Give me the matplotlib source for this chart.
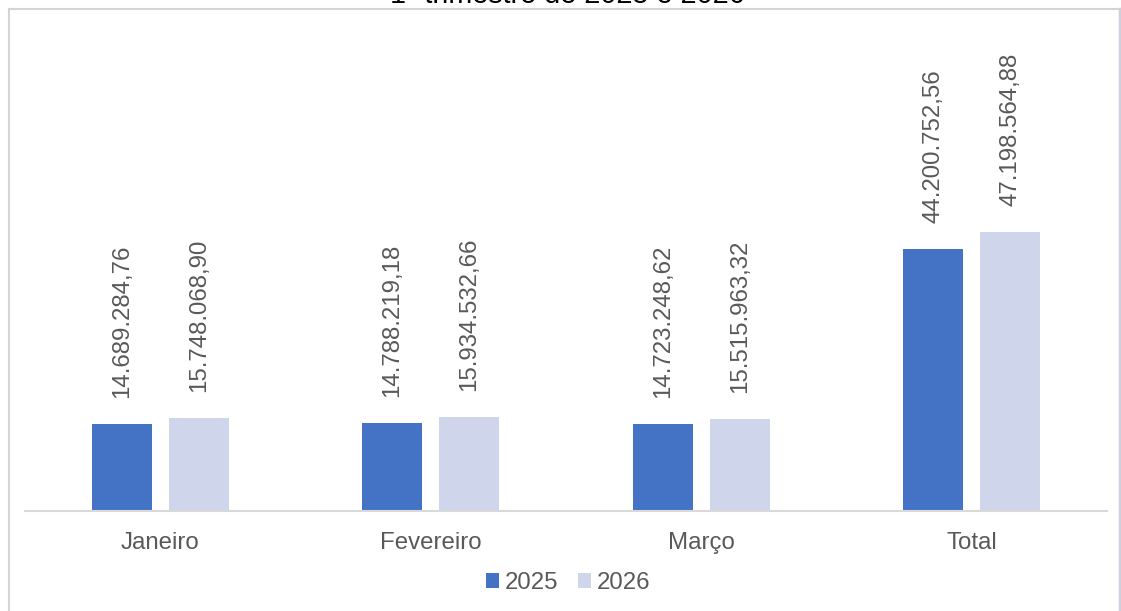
import matplotlib
matplotlib.use("Agg")
import matplotlib.pyplot as plt
from matplotlib.lines import Line2D
import numpy as np

categories = ["Janeiro", "Fevereiro", "Março", "Total"]
values_2025 = [14689284.76, 14788219.18, 14723248.62, 44200752.56]
values_2026 = [15748068.90, 15934532.66, 15515963.32, 47198564.88]
labels_2025 = ["14.689.284,76", "14.788.219,18", "14.723.248,62", "44.200.752,56"]
labels_2026 = ["15.748.068,90", "15.934.532,66", "15.515.963,32", "47.198.564,88"]
series_names = ["2025", "2026"]
title = "1º trimestre de 2025 e 2026"

plt.rcParams['font.family'] = ['Liberation Sans', 'DejaVu Sans']

W, H = 1121, 611
fig = plt.figure(figsize=(W / 100, H / 100), dpi=100)
fs = 17.3
gray = "#595959"

ax = fig.add_axes([25 / W, 100 / H, 1082 / W, 473.6 / H])
x = np.arange(len(categories))
bw = 0.2233
off = 0.1425
b1 = ax.bar(x - off, values_2025, bw, color="#4472C4", label=series_names[0])
b2 = ax.bar(x + off, values_2026, bw, color="#CFD5EA", label=series_names[1])

for bars, labs in ((b1, labels_2025), (b2, labels_2026)):
    for rect, lab in zip(bars, labs):
        ax.annotate(lab, (rect.get_x() + rect.get_width() / 2, rect.get_height()),
                    xytext=(0, 26), textcoords="offset pixels",
                    rotation=90, ha="center", va="bottom", fontsize=fs, color=gray)

ax.set_xlim(-0.5, len(categories) - 0.5)
ax.set_ylim(0, 80e6)
ax.set_xticks(x)
ax.set_xticklabels(categories, fontsize=fs, color=gray)
ax.tick_params(axis="x", length=0, pad=15)
ax.set_yticks([])
for s in ["top", "right", "left"]:
    ax.spines[s].set_visible(False)
ax.spines["bottom"].set_color("#D9D9D9")
ax.spines["bottom"].set_linewidth(1.5)

leg = fig.legend(handles=[b1, b2], loc="center", bbox_to_anchor=(568 / W, 1 - 583 / H),
                 ncol=2, frameon=False, fontsize=fs, labelcolor=gray,
                 handlelength=0.55, handleheight=0.55, handletextpad=0.25,
                 columnspacing=0.8)

# chart frame
fig.add_artist(Line2D([8.7 / W, 8.7 / W], [0, 1 - 8.7 / H], color="#D4D4D4", lw=1.5,
                      transform=fig.transFigure))
fig.add_artist(Line2D([8.7 / W, 1119 / W], [1 - 8.7 / H, 1 - 8.7 / H], color="#D4D4D4", lw=1.5,
                      transform=fig.transFigure))
fig.add_artist(Line2D([1119.5 / W, 1119.5 / W], [0, 1 - 8.7 / H], color="#CDD1DD", lw=2.5,
                      transform=fig.transFigure))

fig.text(567.5 / W, 1 - 3 / H, title, ha="center", va="baseline", fontsize=20.7, color="black")

fig.savefig("out.png", dpi=100)
